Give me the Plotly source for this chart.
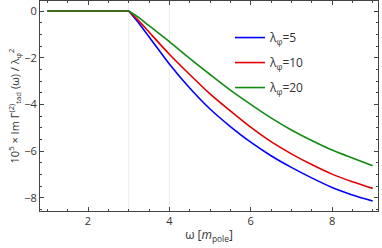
import plotly.graph_objects as go

omega = [1, 2, 3, 3.25, 3.5, 4, 4.5, 5, 5.5, 6, 6.5, 7, 7.5, 8, 8.5, 9]
im_l5 = [0, 0, 0, -0.52, -1.1, -2.27, -3.3, -4.2, -4.95, -5.62, -6.2, -6.7, -7.15, -7.56, -7.88, -8.14]
im_l10 = [0, 0, 0, -0.42, -0.9, -1.85, -2.72, -3.55, -4.28, -4.98, -5.6, -6.12, -6.58, -6.99, -7.32, -7.6]
im_l20 = [0, 0, 0, -0.28, -0.63, -1.31, -2.03, -2.72, -3.39, -4.0, -4.58, -5.1, -5.55, -5.96, -6.3, -6.63]
series_names = ["λ<sub>φ</sub>=5", "λ<sub>φ</sub>=10", "λ<sub>φ</sub>=20"]
colors = ["#0000ff", "#e00000", "#138a13"]
x_ticks = [2, 4, 6, 8]
y_ticks = [0, -2, -4, -6, -8]
y_ticklabels = ["0", "−2", "−4", "−6", "−8"]
grid_x = [3, 4]
kink = 2  # index of threshold omega = 3

fig = go.Figure()
# flat part below threshold
for ys, c in zip([im_l5, im_l10, im_l20], colors):
    fig.add_trace(go.Scatter(x=omega[:kink + 1], y=ys[:kink + 1], mode="lines", showlegend=False,
                             hoverinfo="skip", line=dict(color=c, width=1.6)))
# curved part above threshold
for i, (ys, name, c) in enumerate(zip([im_l5, im_l10, im_l20], series_names, colors)):
    fig.add_trace(go.Scatter(x=omega[kink:], y=ys[kink:], mode="lines", name=name, legendgroup=f"g{i}",
                             line=dict(color=c, width=1.6, shape="spline", smoothing=0.8)))

for gx in grid_x:
    fig.add_shape(type="line", xref="x", yref="paper", x0=gx, x1=gx, y0=0, y1=1,
                  line=dict(color="#ececec", width=1), layer="below")

font = dict(family="Open Sans, Liberation Sans, sans-serif", size=11, color="#333333")
axis_common = dict(showline=True, linecolor="#444444", linewidth=1, mirror="ticks",
                   ticks="inside", ticklen=4, tickcolor="#444444", showgrid=False,
                   zeroline=False, tickfont=font, automargin=False)
fig.update_xaxes(range=[0.82, 9.13], tickvals=x_ticks,
                 minor=dict(ticks="inside", ticklen=2, dtick=0.5, tick0=0, tickcolor="#444444"),
                 title=dict(text="ω [<i>m</i><sub>pole</sub>]", font=dict(family=font["family"], size=12, color="#333333"), standoff=3),
                 **axis_common)
fig.update_yaxes(range=[-8.57, 0.43], tickvals=y_ticks, ticktext=y_ticklabels,
                 minor=dict(ticks="inside", ticklen=2, dtick=0.5, tick0=0, tickcolor="#444444"),
                 title=dict(text="10<sup>5</sup> × Im Γ<sup>(2)</sup><sub>tad</sub> (ω) / λ<sub>φ</sub><sup>2</sup>",
                            font=dict(family=font["family"], size=11, color="#333333"), standoff=2),
                 **axis_common)
fig.update_layout(width=382, height=248, margin=dict(l=40, r=4, t=1, b=37),
                  plot_bgcolor="white", paper_bgcolor="white",
                  legend=dict(x=0.562, y=0.895, xanchor="left", yanchor="top", bgcolor="rgba(0,0,0,0)",
                              font=dict(family=font["family"], size=12, color="#333333"),
                              tracegroupgap=6, itemwidth=30),
                  showlegend=True)
fig.write_html("out.html", config={"displayModeBar": False},
               post_script="document.body.style.margin='0';document.body.style.padding='0';")
